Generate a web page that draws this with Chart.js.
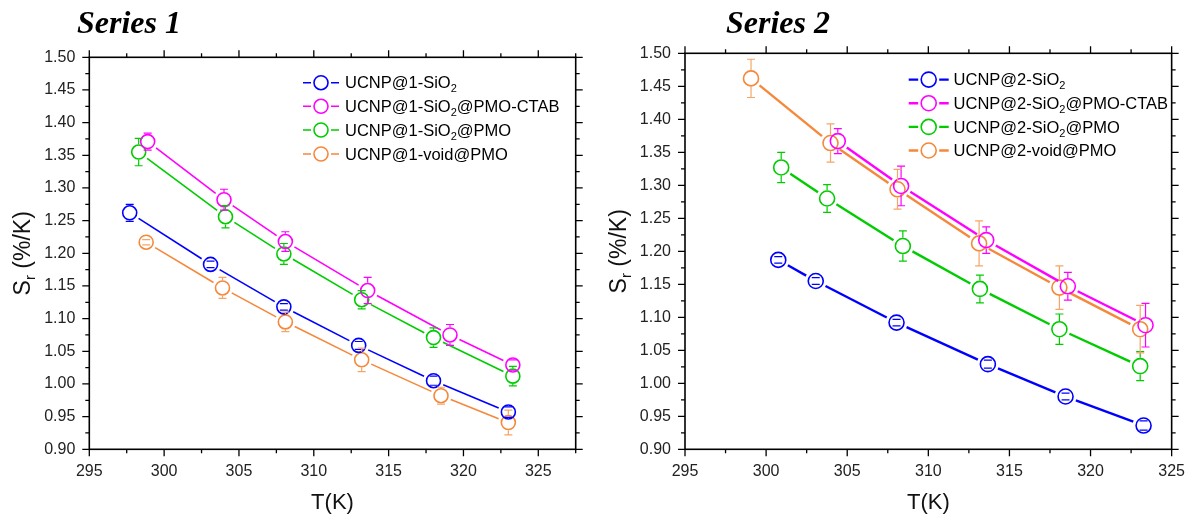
<!DOCTYPE html>
<html>
<head>
<meta charset="utf-8">
<script src="https://cdn.jsdelivr.net/npm/chart.js@4.4.1/dist/chart.umd.min.js"></script>
<style>
body { margin:0; background:#fff; width:1198px; height:515px; overflow:hidden; position:relative; }
.panel { position:absolute; top:0; }
.title { position:absolute; top:6px; font: italic bold 32px "Liberation Serif", "Times New Roman", serif; line-height:32px; color:#000; white-space:nowrap; }
</style>
</head>
<body>
<canvas id="c1" class="panel" width="600" height="515" style="left:0"></canvas>
<canvas id="c2" class="panel" width="598" height="515" style="left:600px"></canvas>
<div class="title" style="left:77px">Series 1</div>
<div class="title" style="left:726px">Series 2</div>
<script>
// axis ticks
var xTicks = [295, 300, 305, 310, 315, 320, 325];
var yTicks = [0.90, 0.95, 1.00, 1.05, 1.10, 1.15, 1.20, 1.25, 1.30, 1.35, 1.40, 1.45, 1.50];

// Series 1 : T (K), Sr (%/K), error
var names1 = ['UCNP@1-SiO_2', 'UCNP@1-SiO_2@PMO-CTAB', 'UCNP@1-SiO_2@PMO', 'UCNP@1-void@PMO'];
var t1_SiO2 = [297.7, 303.1, 308.0, 313.0, 318.0, 323.0];
var s1_SiO2 = [1.262, 1.183, 1.118, 1.059, 1.005, 0.957];
var e1_SiO2 = [0.013, 0.005, 0.005, 0.006, 0.007, 0.008];
var t1_CTAB = [298.9, 304.0, 308.1, 313.6, 319.1, 323.3];
var s1_CTAB = [1.371, 1.282, 1.218, 1.143, 1.075, 1.029];
var e1_CTAB = [0.013, 0.016, 0.015, 0.020, 0.016, 0.008];
var t1_PMO = [298.3, 304.1, 308.0, 313.2, 318.0, 323.3];
var s1_PMO = [1.355, 1.256, 1.199, 1.129, 1.071, 1.012];
var e1_PMO = [0.021, 0.017, 0.016, 0.014, 0.015, 0.015];
var t1_void = [298.8, 303.9, 308.1, 313.2, 318.5, 323.0];
var s1_void = [1.217, 1.147, 1.095, 1.037, 0.982, 0.941];
var e1_void = [0.004, 0.016, 0.015, 0.018, 0.013, 0.019];

// Series 2
var names2 = ['UCNP@2-SiO_2', 'UCNP@2-SiO_2@PMO-CTAB', 'UCNP@2-SiO_2@PMO', 'UCNP@2-void@PMO'];
var t2_SiO2 = [300.75, 303.06, 308.04, 313.67, 318.46, 323.27];
var s2_SiO2 = [1.187, 1.155, 1.092, 1.029, 0.980, 0.936];
var e2_SiO2 = [0.005, 0.005, 0.005, 0.006, 0.005, 0.007];
var t2_CTAB = [304.42, 308.32, 313.57, 318.6, 323.39];
var s2_CTAB = [1.367, 1.299, 1.217, 1.147, 1.088];
var e2_CTAB = [0.019, 0.030, 0.020, 0.021, 0.033];
var t2_PMO = [300.93, 303.76, 308.43, 313.18, 318.08, 323.06];
var s2_PMO = [1.327, 1.280, 1.208, 1.143, 1.082, 1.026];
var e2_PMO = [0.023, 0.021, 0.023, 0.021, 0.023, 0.022];
var t2_void = [299.07, 303.97, 308.1, 313.13, 318.08, 323.06];
var s2_void = [1.462, 1.364, 1.294, 1.212, 1.145, 1.082];
var e2_void = [0.029, 0.029, 0.030, 0.034, 0.033, 0.036];

var seriesColors = ['#0000ff', '#ff00ff', '#00cc00', '#f5883a'];
var errColors = ['#0000ff', '#ff00ff', '#00cc00', '#f5a567'];

var SANS = '"Liberation Sans", Arial, sans-serif';
Chart.defaults.font.family = SANS;

function segLen(c)
{
	return Math.hypot(c.p1.x - c.p0.x, c.p1.y - c.p0.y);
}

function makeDatasets(ts, ss, es, names, lw, r)
{
	var gap = r + 3.5;
	return names.map(function(n, i) {
		return {
			label: n,
			data: ts[i].map(function(t, j) { return {x: t, y: ss[i][j]}; }),
			errors: es[i],
			errColor: errColors[i],
			showLine: true,
			borderColor: seriesColors[i],
			borderWidth: lw,
			pointRadius: r,
			pointHoverRadius: r,
			pointBorderWidth: 1.6,
			pointBorderColor: seriesColors[i],
			pointBackgroundColor: 'rgba(0,0,0,0)',
			// leave a small gap between line and markers like Origin does
			segment: {
				borderDash: function(c) { var L = segLen(c); return [Math.max(L - 2 * gap, 0.01), 2 * gap]; },
				borderDashOffset: function(c) { return segLen(c) - gap; }
			}
		};
	});
}

// ticks (major + minor) for a list of majors
function tickMarks(list, min, max)
{
	var out = [];
	var step = list[1] - list[0];
	list.forEach(function(v) { if (v >= min - 1e-9 && v <= max + 1e-9) out.push({v: v, major: true}); });
	for (var v = list[0] - step / 2; v <= max + 1e-9; v += step)
	{
		if (v >= min - 1e-9) out.push({v: v, major: false});
	}
	return out;
}

// text with _x subscripts
function richParts(str)
{
	var parts = [];
	var re = /_(.)/g, last = 0, m;
	while ((m = re.exec(str)) !== null)
	{
		if (m.index > last) parts.push({t: str.slice(last, m.index), sub: false});
		parts.push({t: m[1], sub: true});
		last = m.index + 2;
	}
	if (last < str.length) parts.push({t: str.slice(last), sub: false});
	return parts;
}

function drawRich(ctx, str, x, y, size, subSize, subDrop, center)
{
	var parts = richParts(str);
	var font = size + 'px ' + SANS, subFont = subSize + 'px ' + SANS;
	var total = 0;
	parts.forEach(function(p) { ctx.font = p.sub ? subFont : font; p.w = ctx.measureText(p.t).width; total += p.w; });
	var cx = center ? x - total / 2 : x;
	ctx.textAlign = 'left';
	ctx.textBaseline = 'alphabetic';
	parts.forEach(function(p) {
		ctx.font = p.sub ? subFont : font;
		ctx.fillText(p.t, cx, p.sub ? y + subDrop : y);
		cx += p.w;
	});
}

var errorBarPlugin = {
	id: 'errorBars',
	afterDatasetsDraw: function(chart)
	{
		var ctx = chart.ctx, ys = chart.scales.y;
		ctx.save();
		chart.data.datasets.forEach(function(ds, i) {
			var meta = chart.getDatasetMeta(i);
			var r = ds.pointRadius + 0.8;
			ctx.strokeStyle = ds.errColor;
			ctx.lineWidth = 1.2;
			ctx.beginPath();
			meta.data.forEach(function(pt, j) {
				var v = ds.data[j].y, e = ds.errors[j];
				var yt = ys.getPixelForValue(v + e), yb = ys.getPixelForValue(v - e);
				if (yt < pt.y - r) { ctx.moveTo(pt.x, pt.y - r); ctx.lineTo(pt.x, yt); }
				if (yb > pt.y + r) { ctx.moveTo(pt.x, pt.y + r); ctx.lineTo(pt.x, yb); }
				ctx.moveTo(pt.x - 4, yt); ctx.lineTo(pt.x + 4, yt);
				ctx.moveTo(pt.x - 4, yb); ctx.lineTo(pt.x + 4, yb);
			});
			ctx.stroke();
		});
		ctx.restore();
	}
};

var framePlugin = {
	id: 'frame',
	afterDatasetsDraw: function(chart)
	{
		var a = chart.chartArea, ctx = chart.ctx;
		var xs = chart.scales.x, ys = chart.scales.y;
		ctx.save();
		ctx.strokeStyle = '#000';
		ctx.lineWidth = 1.6;
		ctx.strokeRect(a.left, a.top, a.right - a.left, a.bottom - a.top);
		ctx.lineWidth = 1.3;
		ctx.beginPath();
		tickMarks(xTicks, xs.min, xs.max).forEach(function(t) {
			var px = xs.getPixelForValue(t.v), len = t.major ? 7 : 4;
			ctx.moveTo(px, a.bottom); ctx.lineTo(px, a.bottom + len);
			ctx.moveTo(px, a.top); ctx.lineTo(px, a.top - len);
		});
		tickMarks(yTicks, ys.min, ys.max).forEach(function(t) {
			var py = ys.getPixelForValue(t.v), len = t.major ? 7 : 4;
			ctx.moveTo(a.left, py); ctx.lineTo(a.left - len, py);
			ctx.moveTo(a.right, py); ctx.lineTo(a.right + len, py);
		});
		ctx.stroke();
		ctx.restore();
	},
	afterDraw: function(chart)
	{
		var a = chart.chartArea, ctx = chart.ctx;
		var opts = chart.options.plugins.sketch;
		ctx.save();
		ctx.fillStyle = '#111';
		// axis titles
		drawRich(ctx, 'T(K)', (a.left + a.right) / 2, 509, 22, 14, 0, true);
		ctx.save();
		ctx.translate(a.left - 59, (a.top + a.bottom) / 2);
		ctx.rotate(-Math.PI / 2);
		drawRich(ctx, 'S_r (%/K)', 0, 0, 23, 15, 5, true);
		ctx.restore();
		// legend
		ctx.fillStyle = '#000';
		chart.data.datasets.forEach(function(ds, i) {
			var y = opts.rows[i];
			var r = ds.pointRadius;
			ctx.strokeStyle = ds.borderColor;
			ctx.lineWidth = ds.borderWidth;
			ctx.beginPath();
			ctx.moveTo(opts.cx - opts.half, y); ctx.lineTo(opts.cx - r - 3, y);
			ctx.moveTo(opts.cx + r + 3, y); ctx.lineTo(opts.cx + opts.half, y);
			ctx.stroke();
			ctx.lineWidth = 1.6;
			ctx.beginPath();
			ctx.arc(opts.cx, y, r, 0, Math.PI * 2);
			ctx.stroke();
			drawRich(ctx, ds.label, opts.tx, y + 5.7, 16.5, 11, 4, false);
		});
		ctx.restore();
	}
};

function makeChart(id, datasets, xMax, yWidth, pad, legend)
{
	return new Chart(document.getElementById(id), {
		type: 'scatter',
		data: {datasets: datasets},
		options: {
			responsive: false,
			animation: false,
			events: [],
			layout: {padding: pad},
			plugins: {
				legend: {display: false},
				tooltip: {enabled: false},
				sketch: legend
			},
			scales: {
				x: {
					type: 'linear',
					min: 295,
					max: xMax,
					afterBuildTicks: function(axis) { axis.ticks = xTicks.map(function(v) { return {value: v}; }); },
					afterFit: function(axis) { axis.height = 515 - 449.3 - pad.bottom; },
					grid: {display: false, drawTicks: false},
					border: {display: false},
					ticks: {
						autoSkip: false, maxRotation: 0, padding: 13,
						color: '#222', font: {size: 16},
						callback: function(v) { return String(v); }
					}
				},
				y: {
					type: 'linear',
					min: 0.9,
					max: 1.5,
					afterBuildTicks: function(axis) { axis.ticks = yTicks.map(function(v) { return {value: v}; }); },
					afterFit: function(axis) { axis.width = yWidth; },
					grid: {display: false, drawTicks: false},
					border: {display: false},
					ticks: {
						autoSkip: false, padding: 14,
						color: '#222', font: {size: 16},
						callback: function(v) { return v.toFixed(2); }
					}
				}
			}
		},
		plugins: [errorBarPlugin, framePlugin]
	});
}

var ds1 = makeDatasets(
	[t1_SiO2, t1_CTAB, t1_PMO, t1_void],
	[s1_SiO2, s1_CTAB, s1_PMO, s1_void],
	[e1_SiO2, e1_CTAB, e1_PMO, e1_void],
	names1, 1.6, 7);
var ds2 = makeDatasets(
	[t2_SiO2, t2_CTAB, t2_PMO, t2_void],
	[s2_SiO2, s2_CTAB, s2_PMO, s2_void],
	[e2_SiO2, e2_CTAB, e2_PMO, e2_void],
	names2, 2.4, 7.5);

makeChart('c1', ds1, 327.5, 89.3, {top: 57.3, right: 24.3, bottom: 0, left: 0},
	{cx: 321, tx: 345, half: 18, rows: [82.7, 106.3, 130, 154]});
makeChart('c2', ds2, 325, 85, {top: 53.3, right: 22, bottom: 0, left: 0},
	{cx: 328.7, tx: 353.6, half: 20, rows: [79.6, 103.2, 126.9, 150.5]});
</script>
</body>
</html>
